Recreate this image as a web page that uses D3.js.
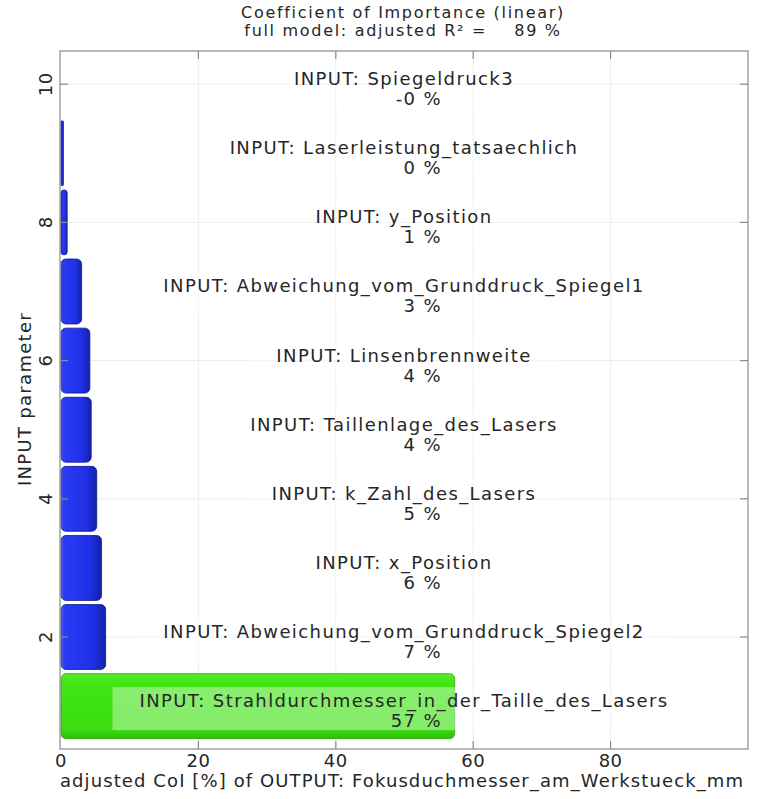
<!DOCTYPE html>
<html lang="en">
<head>
<meta charset="UTF-8">
<title>Coefficient of Importance</title>
<style>
    body { margin: 0; background: #fff; }
    svg { display: block; }
    text { font-family: "DejaVu Sans", Verdana, sans-serif; fill: #262626; }
    .title { font-size: 16px; letter-spacing: 1.7px; }
    .lbl { font-size: 18px; letter-spacing: 1.4px; }
    .tickLbl { font-size: 18px; letter-spacing: 0.5px; }
    .axisTitle { font-size: 18px; letter-spacing: 1.1px; }
    .yTitle { font-size: 18px; letter-spacing: 1.3px; }
    .grid { stroke: #ececec; stroke-width: 1; }
    .frame { fill: none; stroke: #8a8a8a; stroke-width: 1.2; }
    .tick { stroke: #8a8a8a; stroke-width: 1.2; }
</style>
<script src="https://cdn.jsdelivr.net/npm/d3@7"></script>
</head>
<body>
<script>
    // input parameters, bottom (1) to top (10)
    const names = [
        "Strahldurchmesser_in_der_Taille_des_Lasers",
        "Abweichung_vom_Grunddruck_Spiegel2",
        "x_Position",
        "k_Zahl_des_Lasers",
        "Taillenlage_des_Lasers",
        "Linsenbrennweite",
        "Abweichung_vom_Grunddruck_Spiegel1",
        "y_Position",
        "Laserleistung_tatsaechlich",
        "Spiegeldruck3"
    ];
    // adjusted CoI in %
    const coi = [57.3, 6.5, 5.9, 5.2, 4.4, 4.2, 3.0, 0.9, 0.35, -0.1];
    const xTicks = [0, 20, 40, 60, 80];
    const yTicks = [2, 4, 6, 8, 10];
    const titleLines = ["Coefficient of Importance (linear)", "full model: adjusted R\u00b2 =    89 %"];
    const xLabel = "adjusted CoI [%] of OUTPUT: Fokusduchmesser_am_Werkstueck_mm";
    const yLabel = "INPUT parameter";

    const width = 757, height = 799;
    const plot = {left: 60, right: 748, top: 51, bottom: 749};

    const svg = d3.select("body").append("svg")
        .attr("width", width).attr("height", height);

    const x = d3.scaleLinear().domain([0, 100]).range([61, plot.right]);
    const y = d3.scaleLinear().domain([0.38, 10.48]).range([plot.bottom, plot.top]);
    const barH = (y(0) - y(0.94));

    const data = coi.map((v, i) => ({pos: i + 1, name: names[i], v: v}));

    // gradients
    const defs = svg.append("defs");
    const blue = defs.append("linearGradient").attr("id", "gBlue")
        .attr("x1", 0).attr("x2", 1).attr("y1", 0).attr("y2", 0);
    [["0%", "#7078f5"], ["6%", "#2b3cf6"], ["70%", "#2030e6"], ["100%", "#1222a8"]]
        .forEach(s => blue.append("stop").attr("offset", s[0]).attr("stop-color", s[1]));
    const green = defs.append("linearGradient").attr("id", "gGreen")
        .attr("x1", 0).attr("x2", 0).attr("y1", 0).attr("y2", 1);
    [["0%", "#52ee2a"], ["15%", "#41e616"], ["85%", "#3ade10"], ["100%", "#2cbf0a"]]
        .forEach(s => green.append("stop").attr("offset", s[0]).attr("stop-color", s[1]));

    // grid lines
    svg.append("g").selectAll("line.gx")
        .data(xTicks.slice(1)).enter().append("line")
        .attr("class", "grid")
        .attr("x1", d => x(d)).attr("x2", d => x(d))
        .attr("y1", plot.top).attr("y2", plot.bottom);
    svg.append("g").selectAll("line.gy")
        .data(yTicks).enter().append("line")
        .attr("class", "grid")
        .attr("x1", plot.left).attr("x2", plot.right)
        .attr("y1", d => y(d)).attr("y2", d => y(d));

    // bars (tiny negative value gives no visible bar)
    svg.append("g").selectAll("rect")
        .data(data.filter(d => d.v > 0)).enter().append("rect")
        .attr("x", d => x(0))
        .attr("y", d => y(d.pos) - barH / 2)
        .attr("width", d => x(d.v) - x(0))
        .attr("height", barH)
        .attr("rx", d => Math.min(5, (x(d.v) - x(0)) / 2))
        .attr("fill", (d, i) => i === 0 ? "url(#gGreen)" : "url(#gBlue)")
        .attr("stroke", (d, i) => i === 0 ? "#2ea313" : "#101a8a")
        .attr("stroke-width", 0.8);

    // labels with a faint white box behind them
    const lbl = svg.append("g").selectAll("g")
        .data(data).enter().append("g");
    const cx = (plot.left + plot.right) / 2;
    lbl.append("rect").attr("class", "lblBox");
    lbl.append("text").attr("class", "lbl line1")
        .attr("x", cx).attr("y", d => y(d.pos) + 1)
        .attr("text-anchor", "middle")
        .text(d => "INPUT: " + d.name);
    lbl.append("text").attr("class", "lbl")
        .attr("x", cx + 38).attr("y", d => y(d.pos) + 21)
        .attr("text-anchor", "end")
        .text(d => d.v.toFixed(0) + " %");
    lbl.each(function(d) {
        const g = d3.select(this);
        const bb = g.select(".line1").node().getBBox();
        g.select(".lblBox")
            .attr("x", bb.x - 27).attr("width", bb.width + 54)
            .attr("y", y(d.pos) - 19).attr("height", 43)
            .attr("fill", "#fff").attr("fill-opacity", 0.38);
    });

    // frame and ticks
    svg.append("rect").attr("class", "frame")
        .attr("x", plot.left).attr("y", plot.top)
        .attr("width", plot.right - plot.left).attr("height", plot.bottom - plot.top);
    const tk = svg.append("g");
    xTicks.slice(1).forEach(t => {
        tk.append("line").attr("class", "tick")
            .attr("x1", x(t)).attr("x2", x(t)).attr("y1", plot.bottom).attr("y2", plot.bottom - 8);
        tk.append("line").attr("class", "tick")
            .attr("x1", x(t)).attr("x2", x(t)).attr("y1", plot.top).attr("y2", plot.top + 8);
    });
    yTicks.forEach(t => {
        tk.append("line").attr("class", "tick")
            .attr("x1", plot.left).attr("x2", plot.left + 8).attr("y1", y(t)).attr("y2", y(t));
        tk.append("line").attr("class", "tick")
            .attr("x1", plot.right).attr("x2", plot.right - 8).attr("y1", y(t)).attr("y2", y(t));
    });

    // tick labels
    svg.append("g").selectAll("text")
        .data(xTicks).enter().append("text")
        .attr("class", "tickLbl")
        .attr("x", d => x(d)).attr("y", plot.bottom + 18)
        .attr("text-anchor", "middle")
        .text(d => d);
    svg.append("g").selectAll("text")
        .data(yTicks).enter().append("text")
        .attr("class", "tickLbl")
        .attr("transform", d => `translate(52,${y(d)}) rotate(-90)`)
        .attr("text-anchor", "middle")
        .text(d => d);

    // titles
    svg.append("g").selectAll("text")
        .data(titleLines).enter().append("text")
        .attr("class", "title")
        .attr("x", 403).attr("y", (d, i) => 18 + i * 18)
        .attr("text-anchor", "middle")
        .style("white-space", "pre")
        .text(d => d);
    svg.append("text").attr("class", "axisTitle")
        .attr("x", 402).attr("y", 787)
        .attr("text-anchor", "middle")
        .text(xLabel);
    svg.append("text").attr("class", "yTitle")
        .attr("transform", `translate(31,${399}) rotate(-90)`)
        .attr("text-anchor", "middle")
        .text(yLabel);
</script>
</body>
</html>
